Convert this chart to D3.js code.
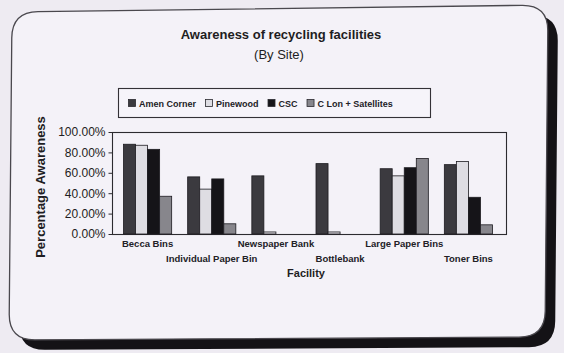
<!DOCTYPE html>
<html>
<head>
<meta charset="utf-8">
<script src="https://cdn.jsdelivr.net/npm/d3@7"></script>
<style>
  html, body { margin: 0; padding: 0; background: #eeebf2; }
  svg { display: block; font-family: "Liberation Sans", Arial, sans-serif; }
</style>
</head>
<body>
<svg id="chart" width="564" height="353"></svg>
<script>
// Facilities on the x axis
const categories = ["Becca Bins", "Individual Paper Bin", "Newspaper Bank", "Bottlebank", "Large Paper Bins", "Toner Bins"];
// Sites (one bar per site in each facility group)
const seriesNames = ["Amen Corner", "Pinewood", "CSC", "C Lon + Satellites"];
// Awareness share per site, in facility order
const amenCorner  = [0.88, 0.56, 0.57, 0.69, 0.64, 0.68];
const pinewood    = [0.87, 0.44, 0.02, 0.02, 0.57, 0.71];
const csc         = [0.83, 0.54, 0.00, 0.00, 0.65, 0.36];
const cLonSat     = [0.37, 0.10, 0.00, 0.00, 0.74, 0.09];
// Value axis ticks
const yTickValues = [0, 0.2, 0.4, 0.6, 0.8, 1.0];
const yTickLabels = ["0.00%", "20.00%", "40.00%", "60.00%", "80.00%", "100.00%"];

const seriesValues = [amenCorner, pinewood, csc, cLonSat];
const seriesFill = ["#3b3a3f", "#dedde3", "#151418", "#87868c"];

const svg = d3.select("#chart");

// ---- card frame with heavy drop shadow ----
function cardPath(tl, tr, br, bl, r) {
  const p = d3.path();
  const lerp = (a, b, t) => [a[0] + (b[0] - a[0]) * t, a[1] + (b[1] - a[1]) * t];
  const dist = (a, b) => Math.hypot(b[0] - a[0], b[1] - a[1]);
  const pts = [tl, tr, br, bl];
  for (let i = 0; i < 4; i++) {
    const prev = pts[(i + 3) % 4], cur = pts[i], next = pts[(i + 1) % 4];
    const a = lerp(cur, prev, r / dist(cur, prev));
    const b = lerp(cur, next, r / dist(cur, next));
    if (i === 0) p.moveTo(a[0], a[1]); else p.lineTo(a[0], a[1]);
    p.quadraticCurveTo(cur[0], cur[1], b[0], b[1]);
  }
  p.closePath();
  return p.toString();
}
const TL = [12, 12], TR = [548, 5], BR = [545, 337], BL = [9, 340];
svg.append("path")
  .attr("d", cardPath(TL, TR, BR, BL, 26))
  .attr("transform", "translate(10,10)")
  .attr("fill", "#141216");
svg.append("path")
  .attr("d", cardPath(TL, TR, BR, BL, 26))
  .attr("fill", "#f4f2f8")
  .attr("stroke", "#4a484e")
  .attr("stroke-width", 1.3);

// ---- titles ----
svg.append("text")
  .attr("x", 281).attr("y", 39)
  .attr("text-anchor", "middle")
  .attr("font-size", 13).attr("font-weight", "bold").attr("fill", "#1e1d22")
  .text("Awareness of recycling facilities");
svg.append("text")
  .attr("x", 279).attr("y", 59)
  .attr("text-anchor", "middle")
  .attr("font-size", 13).attr("fill", "#1e1d22")
  .text("(By Site)");

// ---- legend ----
const legend = svg.append("g");
legend.append("rect")
  .attr("x", 118.5).attr("y", 88.5).attr("width", 312).attr("height", 29)
  .attr("fill", "#f6f4fa").attr("stroke", "#333136").attr("stroke-width", 1.1);
let lx = 128;
seriesNames.forEach((name, i) => {
  legend.append("rect")
    .attr("x", lx + 0.5).attr("y", 99.5).attr("width", 7).attr("height", 7)
    .attr("fill", seriesFill[i]).attr("stroke", "#2a292e").attr("stroke-width", 0.8);
  const t = legend.append("text")
    .attr("x", lx + 11).attr("y", 107)
    .attr("font-size", 9).attr("font-weight", "bold").attr("fill", "#222126")
    .text(name);
  lx += 11 + t.node().getComputedTextLength() + 9;
});

// ---- plot area ----
const plot = { left: 112, right: 506, top: 132, bottom: 234 };

const x0 = d3.scaleBand()
  .domain(categories)
  .range([115.5, 500.5])
  .padding(0);
const x1 = d3.scaleBand()
  .domain(seriesNames)
  .range([8, x0.bandwidth() - 8])
  .padding(0);
const y = d3.scaleLinear()
  .domain([0, 1])
  .range([plot.bottom, plot.top]);

svg.append("rect")
  .attr("x", plot.left + 0.5).attr("y", plot.top + 0.5)
  .attr("width", plot.right - plot.left).attr("height", plot.bottom - plot.top)
  .attr("fill", "none").attr("stroke", "#2c2b30").attr("stroke-width", 1.1);

// bars
const groups = svg.append("g").selectAll("g")
  .data(categories)
  .join("g")
  .attr("transform", d => `translate(${x0(d)},0)`);
groups.selectAll("rect")
  .data((d, ci) => seriesNames.map((s, si) => ({ s, si, v: seriesValues[si][ci] })).filter(e => e.v > 0))
  .join("rect")
  .attr("x", d => x1(d.s))
  .attr("y", d => y(d.v))
  .attr("width", x1.bandwidth())
  .attr("height", d => y(0) - y(d.v))
  .attr("fill", d => seriesFill[d.si])
  .attr("stroke", "#1c1b20")
  .attr("stroke-width", 0.8);

// value axis
const yAxis = d3.axisLeft(y)
  .tickValues(yTickValues)
  .tickFormat((d, i) => yTickLabels[i])
  .tickSize(4)
  .tickPadding(3);
const ya = svg.append("g")
  .attr("transform", `translate(${plot.left + 0.5},0)`)
  .call(yAxis);
ya.select(".domain").remove();
ya.selectAll("line").attr("stroke", "#2c2b30");
ya.selectAll("text")
  .attr("font-size", 12).attr("fill", "#1e1d22")
  .attr("font-family", "Liberation Sans, Arial, sans-serif");

// category labels, staggered on two rows
svg.append("g").selectAll("text")
  .data(categories)
  .join("text")
  .attr("x", d => x0(d) + x0.bandwidth() / 2)
  .attr("y", (d, i) => i % 2 === 0 ? 247 : 262)
  .attr("text-anchor", "middle")
  .attr("font-size", 9.5).attr("font-weight", "bold").attr("fill", "#222126")
  .text(d => d);

// axis titles
svg.append("text")
  .attr("x", 306).attr("y", 277)
  .attr("text-anchor", "middle")
  .attr("font-size", 11).attr("font-weight", "bold").attr("fill", "#1e1d22")
  .text("Facility");
svg.append("text")
  .attr("transform", "translate(45,187) rotate(-90)")
  .attr("text-anchor", "middle")
  .attr("font-size", 13).attr("font-weight", "bold").attr("fill", "#1e1d22")
  .text("Percentage Awareness");
</script>
</body>
</html>
